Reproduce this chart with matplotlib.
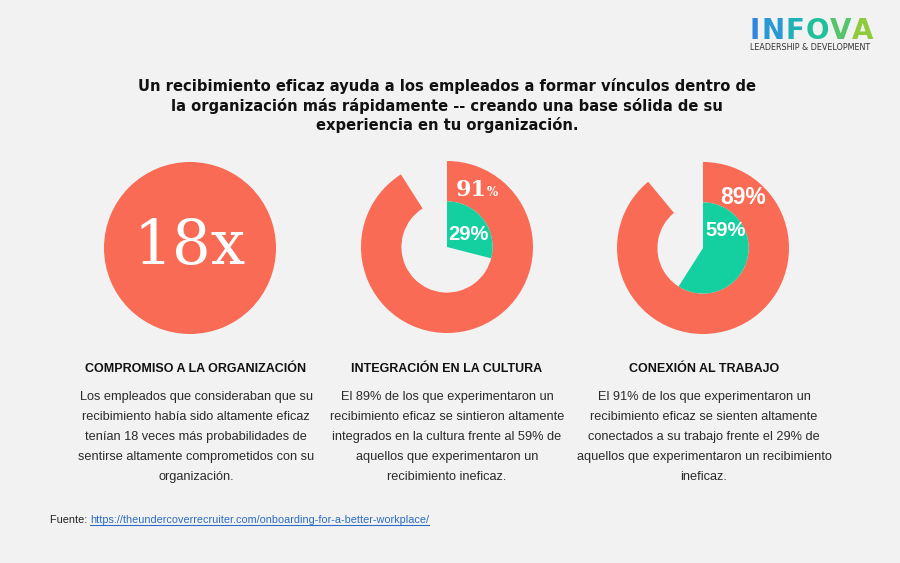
import matplotlib
matplotlib.use("Agg")
import matplotlib.pyplot as plt
from matplotlib.lines import Line2D
from matplotlib import font_manager

# ---------------- data ----------------
title_lines = [
    "Un recibimiento eficaz ayuda a los empleados a formar vínculos dentro de",
    "la organización más rápidamente -- creando una base sólida de su",
    "experiencia en tu organización.",
]
big_stat = "18x"
ring_outer_vals = [91, 89]      # outer ring percentages (middle, right)
ring_inner_vals = [29, 59]      # inner wedge percentages (middle, right)
headings = ["COMPROMISO A LA ORGANIZACIÓN", "INTEGRACIÓN EN LA CULTURA", "CONEXIÓN AL TRABAJO"]
bodies = [
    ["Los empleados que consideraban que su",
     "recibimiento había sido altamente eficaz",
     "tenían 18 veces más probabilidades de",
     "sentirse altamente comprometidos con su",
     "organización."],
    ["El 89% de los que experimentaron un",
     "recibimiento eficaz se sintieron altamente",
     "integrados en la cultura frente al 59% de",
     "aquellos que experimentaron un",
     "recibimiento ineficaz."],
    ["El 91% de los que experimentaron un",
     "recibimiento eficaz se sienten altamente",
     "conectados a su trabajo frente el 29% de",
     "aquellos que experimentaron un recibimiento",
     "ineficaz."],
]
source_label = "Fuente: "
source_url = "https://theundercoverrecruiter.com/onboarding-for-a-better-workplace/"
logo_letters = list("INFOVA")
logo_sub = "LEADERSHIP & DEVELOPMENT"

# ---------------- style ----------------
BG = "#F2F2F2"
CORAL = "#FA6B55"
TEAL = "#14D0A1"
W, H = 900, 563
installed = {f.name for f in font_manager.fontManager.ttflist}
NARROW = "Liberation Sans Narrow" if "Liberation Sans Narrow" in installed else "Liberation Sans"
logo_colors = ["#2E86DE", "#2A98D2", "#1FB0B8", "#1FC09A", "#55C46A", "#8FCB3C"]

fig = plt.figure(figsize=(W / 100, H / 100), dpi=100, facecolor=BG)
r = fig.canvas.get_renderer()


def fit_size(text, target_px, family, weight="normal", base=10.0):
    t = fig.text(0, 0, text, fontsize=base, family=family, fontweight=weight)
    w = t.get_window_extent(r).width
    t.remove()
    return base * target_px / w


def sub_axes(cx, cy, rad):
    a = fig.add_axes([(cx - rad) / W, (H - cy - rad) / H, 2 * rad / W, 2 * rad / H])
    a.set_xlim(-1, 1)
    a.set_ylim(-1, 1)
    a.set_aspect("equal")
    a.axis("off")
    return a


# big circle
a1 = sub_axes(190, 248, 86)
a1.pie([1], colors=[CORAL], radius=1, startangle=90, wedgeprops=dict(linewidth=0))
a1.set_xlim(-1, 1); a1.set_ylim(-1, 1)

hole = 0.53
centers = [(447, 247), (703, 248)]
for (cx, cy), vo, vi in zip(centers, ring_outer_vals, ring_inner_vals):
    a = sub_axes(cx, cy, 86)
    a.pie([vo, 100 - vo], colors=[CORAL, "none"], radius=1, startangle=90,
          counterclock=False, wedgeprops=dict(width=1 - hole, linewidth=0))
    a.pie([vi, 100 - vi], colors=[TEAL, "none"], radius=hole, startangle=90,
          counterclock=False, wedgeprops=dict(linewidth=0))
    a.set_xlim(-1, 1); a.set_ylim(-1, 1)

# overlay axes for all text (pixel coordinates, origin top-left)
ax = fig.add_axes([0, 0, 1, 1], zorder=10)
ax.set_xlim(0, W)
ax.set_ylim(H, 0)
ax.axis("off")
ax.patch.set_alpha(0)

# title
title_fs = fit_size(title_lines[0], 616, "DejaVu Sans", "bold")
for i, line in enumerate(title_lines):
    ax.text(447, 86 + i * 19.5, line, ha="center", va="center",
            fontsize=title_fs, fontweight="bold", family="DejaVu Sans", color="#111111")

# big stat
ax.text(190, 246, big_stat, ha="center", va="center", color="white",
        fontsize=44, family="DejaVu Serif")

# labels on rings
ax.text(471, 190, f"{ring_outer_vals[0]}", ha="center", va="center", color="white",
        fontsize=16, fontweight="bold", family="DejaVu Serif")
ax.text(492, 193, "%", ha="center", va="center", color="white",
        fontsize=8.5, fontweight="bold", family="DejaVu Serif")
ax.text(468, 234, f"{ring_inner_vals[0]}%", ha="center", va="center", color="white",
        fontsize=14.5, fontweight="bold", family=NARROW)
ax.text(743, 197, f"{ring_outer_vals[1]}%", ha="center", va="center", color="white",
        fontsize=16.5, fontweight="bold", family=NARROW)
ax.text(726, 231, f"{ring_inner_vals[1]}%", ha="center", va="center", color="white",
        fontsize=14.5, fontweight="bold", family=NARROW)

# headings and bodies
head_fs = fit_size(headings[0], 221, NARROW, "bold")
body_fs = fit_size(bodies[0][0], 233, NARROW)
col_x = [196, 447, 704]
for x, head, body in zip(col_x, headings, bodies):
    ax.text(x, 369, head, ha="center", va="center", fontsize=head_fs, fontweight="bold",
            family=NARROW, color="#111111")
    for j, line in enumerate(body):
        ax.text(x, 397 + j * 20, line, ha="center", va="center", fontsize=body_fs,
                family=NARROW, color="#2a2a2a")

# source
t1 = ax.text(50, 520, source_label, ha="left", va="center", fontsize=7.8,
             family="Liberation Sans", color="#222222")
bb = t1.get_window_extent(r)
t2 = fig.text(bb.x1 / W, (H - 520) / H, source_url, ha="left", va="center", fontsize=7.8,
              family="Liberation Sans", color="#2B6CC4", zorder=11)
bb2 = t2.get_window_extent(r)
fig.add_artist(Line2D([bb2.x0 / W, bb2.x1 / W], [(bb2.y0 + 0.5) / H] * 2,
                      color="#2B6CC4", lw=0.8, zorder=11))

# logo
xcur = 750
for ch, c in zip(logo_letters, logo_colors):
    t = fig.text(xcur / W, (H - 31) / H, ch, ha="left", va="center", fontsize=20,
                 fontweight="heavy", family="DejaVu Sans", color=c, zorder=11)
    xcur = t.get_window_extent(r).x1 + 1
fig.text(750 / W, (H - 48) / H, logo_sub, ha="left", va="center", fontsize=5.8,
         family="DejaVu Sans", color="#333333", zorder=11)

fig.savefig("out.png", dpi=100, facecolor=BG)
